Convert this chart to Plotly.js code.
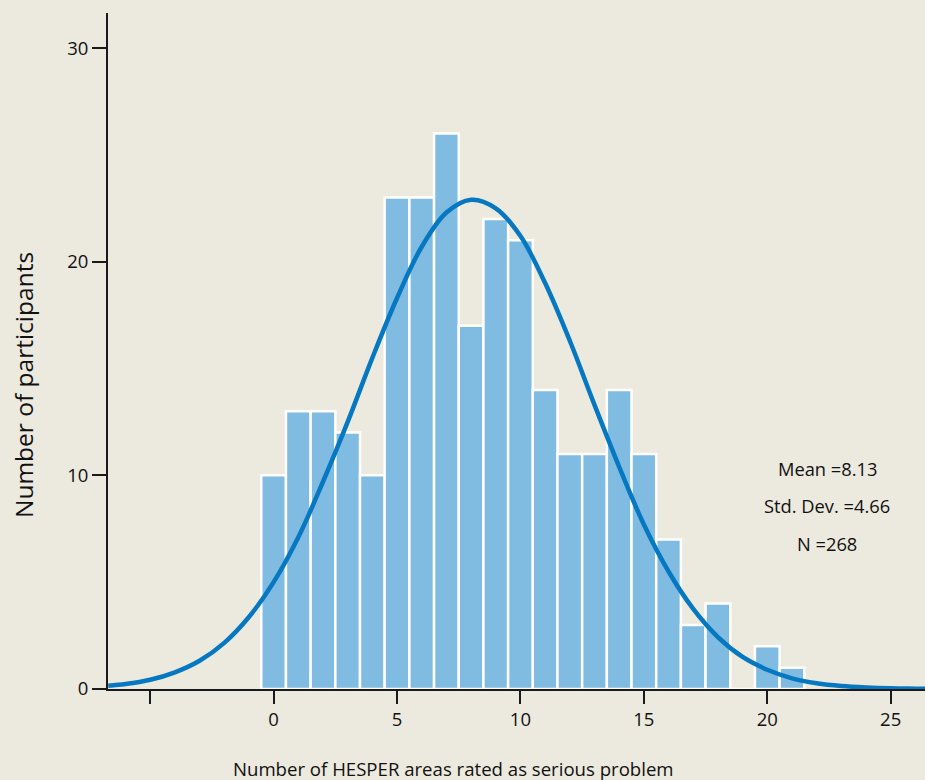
<!DOCTYPE html>
<html>
<head>
<meta charset="utf-8">
<script src="https://cdn.plot.ly/plotly-3.0.1.min.js"></script>
<style>html,body{margin:0;padding:0;background:#ece9df;}#chart{width:925px;height:780px;}</style>
</head>
<body>
<div id="chart"></div>
<script>
// Histogram bins (number of HESPER areas) and counts
const binCenters = [0,1,2,3,4,5,6,7,8,9,10,11,12,13,14,15,16,17,18,19,20,21];
const counts     = [10,13,13,12,10,23,23,26,17,22,21,14,11,11,14,11,7,3,4,0,2,1];

// Fitted normal curve
const curveX = [-6.7,-6,-5,-4,-3,-2,-1,0,1,2,3,4,5,6,7,8,9,10,11,12,13,14,15,16,17,18,19,20,21,22,23,24,25,26,26.4];
const curveY = [0.15,0.23,0.43,0.78,1.32,2.16,3.37,5.0,7.1,9.7,12.5,15.5,18.3,20.7,22.3,22.9,22.5,21.2,19.0,16.3,13.3,10.4,7.7,5.5,3.75,2.43,1.5,0.9,0.5,0.27,0.14,0.07,0.03,0.015,0.01];

// Tick labels
const xTickVals = [-5,0,5,10,15,20,25];
const xTickText = ['','0','5','10','15','20','25'];
const yTickVals = [0,10,20,30];
const yTickText = ['0','10','20','30'];

const statsText = ['Mean =8.13','Std. Dev. =4.66','N =268'];
const statsY = [10.34, 8.61, 6.83];

const FONT = 'Open Sans, Noto Sans, sans-serif';

const traces = [
  {
    type: 'bar', x: binCenters, y: counts, width: 1,
    marker: {color: '#80bbe1', line: {color: '#ffffff', width: 2.5}},
    hoverinfo: 'x+y'
  },
  {
    type: 'scatter', mode: 'lines', x: curveX, y: curveY,
    line: {color: '#0678c1', width: 4.5, shape: 'spline', smoothing: 1.0},
    cliponaxis: true
  }
];

const annotations = [
  {text: 'Number of HESPER areas rated as serious problem', xref: 'paper', yref: 'paper',
   x: 0.4223, y: -0.1169, xanchor: 'center', yanchor: 'middle', showarrow: false,
   font: {family: FONT, size: 18.6, color: '#111111'}},
  {text: 'Number of participants', xref: 'paper', yref: 'paper',
   x: -0.104, y: 0.4497, xanchor: 'center', yanchor: 'middle', textangle: -90, showarrow: false,
   font: {family: FONT, size: 24.5, color: '#111111'}}
];
statsText.forEach((t, i) => annotations.push({
  text: t, xref: 'x', yref: 'y', x: 22.42, y: statsY[i], xanchor: 'center', yanchor: 'middle',
  showarrow: false, font: {family: FONT, size: 18.3, color: '#111111'}
}));

const layout = {
  width: 925, height: 780,
  paper_bgcolor: '#ece9df', plot_bgcolor: '#ece9df',
  margin: {l: 108, r: 0, t: 13, b: 91, pad: 0},
  showlegend: false,
  bargap: 0,
  font: {family: FONT, color: '#111111'},
  xaxis: {
    range: [-6.71, 26.39], showgrid: false, zeroline: false,
    showline: true, linecolor: '#1a1a1a', linewidth: 2,
    tickmode: 'array', tickvals: xTickVals, ticktext: xTickText,
    ticks: 'outside', ticklen: 13, tickwidth: 2, tickcolor: '#1a1a1a',
    tickfont: {family: FONT, size: 18.5, color: '#111111'},
    layer: 'below traces'
  },
  yaxis: {
    range: [0, 31.64], showgrid: false, zeroline: false,
    showline: true, linecolor: '#1a1a1a', linewidth: 2,
    tickmode: 'array', tickvals: yTickVals, ticktext: yTickText,
    ticks: 'outside', ticklen: 14, tickwidth: 2, tickcolor: '#1a1a1a',
    tickfont: {family: FONT, size: 18.5, color: '#111111'},
    layer: 'below traces'
  },
  annotations: annotations
};

Plotly.newPlot('chart', traces, layout, {displayModeBar: false, staticPlot: true});
</script>
</body>
</html>
